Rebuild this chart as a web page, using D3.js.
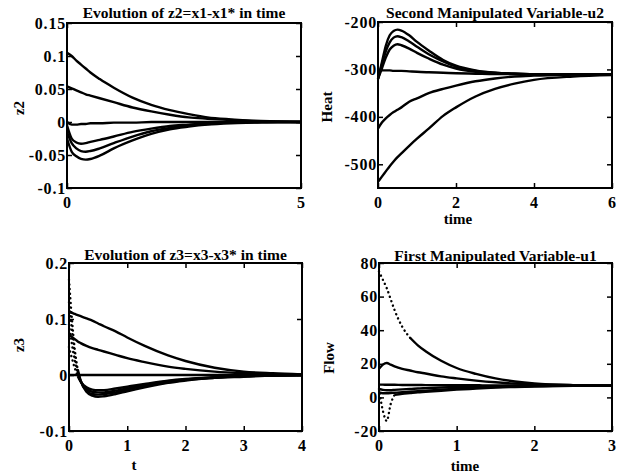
<!DOCTYPE html>
<html>
<head>
<meta charset="utf-8">
<script src="https://cdn.jsdelivr.net/npm/d3@7"></script>
<style>
  body { margin: 0; background: #fff; }
  svg { display: block; }
  .tick text { font-family: "Liberation Serif", "DejaVu Serif", serif; font-weight: bold; font-size: 16px; letter-spacing: 0.8px; fill: #000; }
  .tick line { stroke: #000; stroke-width: 1.5px; }
  .title, .label { font-family: "Liberation Serif", "DejaVu Serif", serif; font-weight: bold; fill: #000; }
  .title { font-size: 15.5px; }
  .label { font-size: 15px; }
  .curve { fill: none; stroke: #000; stroke-width: 2.4px; stroke-linejoin: round; }
  .dots { fill: none; stroke: #000; stroke-width: 2.4px; stroke-dasharray: 0.1 4.5; stroke-linecap: round; }
</style>
</head>
<body>
<svg width="627" height="475"></svg>
<script>
// panel 1: z2 = x1 - x1*
const t1 = [0, 0.1, 0.2, 0.3, 0.4, 0.5, 0.7, 1.0, 1.4, 1.8, 2.2, 2.6, 3.0, 3.5, 4.0, 4.5, 5.0];
const z2a = [0.105, 0.100, 0.093, 0.087, 0.081, 0.075, 0.065, 0.052, 0.037, 0.026, 0.018, 0.012, 0.007, 0.004, 0.002, 0.001, 0];
const z2b = [0.054, 0.051, 0.048, 0.045, 0.042, 0.040, 0.036, 0.030, 0.022, 0.016, 0.011, 0.007, 0.005, 0.003, 0.001, 0.0005, 0];
const z2c = [0, -0.004, -0.004, -0.003, -0.003, -0.002, -0.002, -0.001, -0.001, 0, 0, 0, 0, 0, 0, 0, 0];
const z2d = [-0.005, -0.025, -0.031, -0.033, -0.032, -0.030, -0.027, -0.022, -0.015, -0.010, -0.006, -0.004, -0.002, -0.001, 0, 0, 0];
const z2e = [-0.015, -0.032, -0.040, -0.044, -0.045, -0.044, -0.040, -0.032, -0.022, -0.014, -0.009, -0.005, -0.003, -0.001, 0, 0, 0];
const z2f = [-0.025, -0.045, -0.052, -0.056, -0.057, -0.056, -0.051, -0.040, -0.028, -0.018, -0.011, -0.007, -0.004, -0.002, -0.001, 0, 0];
const z2XTicks = [0, 5];
const z2YTicks = [-0.1, -0.05, 0, 0.05, 0.1, 0.15];
const z2YLabels = ["-0.1", "-0.05", "0", "0.05", "0.1", "0.15"];

// panel 2: heat u2
const t2 = [0, 0.1, 0.2, 0.3, 0.4, 0.5, 0.6, 0.8, 1.0, 1.3, 1.67, 2.0, 2.5, 3.0, 3.5, 4.0, 5.0, 6.0];
const h1 = [-320, -285, -250, -228, -219, -216, -218, -228, -242, -260, -280, -292, -302, -307, -309, -310, -310, -310];
const h2 = [-320, -290, -262, -243, -233, -230, -232, -241, -252, -268, -283, -294, -303, -307, -309, -310, -310, -310];
const h3 = [-320, -298, -275, -258, -250, -247, -249, -256, -265, -277, -290, -298, -305, -308, -309, -310, -310, -310];
const h4 = [-305, -302, -302, -302, -303, -303, -303, -304, -305, -306, -307, -308, -309, -310, -310, -310, -310, -310];
const h5 = [-425, -412, -403, -396, -390, -385, -380, -368, -361, -350, -341, -334, -325, -319, -315, -313, -311, -310];
const h6 = [-537, -526, -515, -504, -494, -485, -477, -461, -446, -425, -398, -380, -357, -341, -330, -322, -315, -312];
const heatXTicks = [0, 2, 4, 6];
const heatYTicks = [-500, -400, -300, -200];

// panel 3: z3 = x3 - x3*
const t3 = [0, 0.05, 0.1, 0.15, 0.2, 0.3, 0.4, 0.5, 0.6, 0.8, 1.0, 1.3, 1.7, 2.0, 2.5, 3.0, 3.5, 4.0];
const z3a = [0.112, 0.111, 0.109, 0.107, 0.105, 0.101, 0.097, 0.092, 0.087, 0.078, 0.067, 0.052, 0.035, 0.025, 0.013, 0.006, 0.003, 0.001];
const z3b = [0.072, 0.068, 0.064, 0.060, 0.057, 0.052, 0.048, 0.045, 0.042, 0.036, 0.030, 0.023, 0.015, 0.011, 0.006, 0.003, 0.001, 0];
const z3c = [0, 0, 0, 0, 0, 0, 0, 0, 0, 0, 0, 0, 0, 0, 0, 0, 0, 0];
const z3d = [0.05, 0.03, 0.012, -0.002, -0.012, -0.022, -0.026, -0.027, -0.027, -0.024, -0.021, -0.016, -0.010, -0.007, -0.004, -0.002, -0.001, 0];
const z3e = [0.09, 0.055, 0.025, 0.003, -0.011, -0.025, -0.030, -0.031, -0.031, -0.028, -0.024, -0.018, -0.011, -0.008, -0.004, -0.002, -0.001, 0];
const z3f = [0.13, 0.08, 0.035, 0.006, -0.011, -0.028, -0.034, -0.035, -0.034, -0.031, -0.026, -0.020, -0.013, -0.009, -0.005, -0.002, -0.001, 0];
const z3g = [0.17, 0.10, 0.045, 0.010, -0.010, -0.030, -0.037, -0.039, -0.038, -0.034, -0.029, -0.022, -0.014, -0.010, -0.005, -0.003, -0.001, 0];
const z3XTicks = [0, 1, 2, 3, 4];
const z3YTicks = [-0.1, 0, 0.1, 0.2];
const z3YLabels = ["-0.1", "0", "0.1", "0.2"];

// panel 4: flow u1
const t4 = [0, 0.05, 0.1, 0.15, 0.2, 0.3, 0.4, 0.5, 0.6, 0.8, 1.0, 1.25, 1.5, 1.75, 2.0, 2.5, 3.0];
const f1 = [75, 70, 65, 58.5, 52, 42, 35.5, 31, 27.5, 21.8, 17.5, 14, 11.3, 9.5, 8.3, 7.3, 7.0];
const f2 = [17, 19.5, 20.5, 19.5, 18.5, 17, 16, 15, 14.2, 12.5, 11.3, 10, 9, 8.3, 7.8, 7.2, 7];
const f3 = [7.6, 7.6, 7.5, 7.5, 7.5, 7.4, 7.4, 7.4, 7.3, 7.3, 7.2, 7.2, 7.1, 7.1, 7, 7, 7];
const f4 = [5, 4.5, 4.3, 4.3, 4.5, 4.8, 5, 5.3, 5.5, 5.9, 6.2, 6.5, 6.7, 6.8, 6.9, 7, 7];
const f5 = [5, -8, -14, -4, 1.5, 2.2, 2.6, 3, 3.3, 4, 4.6, 5.2, 5.8, 6.2, 6.5, 6.9, 7];
const f6 = [3, 2.5, 2.5, 2.6, 2.8, 3.1, 3.4, 3.7, 4, 4.6, 5.1, 5.7, 6.1, 6.5, 6.7, 7, 7];
const flowXTicks = [0, 1, 2, 3];
const flowYTicks = [-20, 0, 20, 40, 60, 80];

const svg = d3.select("svg");

const panels = [
    {box: [67, 23, 301, 188], xDom: [0, 5], yDom: [-0.1, 0.15], t: t1,
     series: [z2a, z2b, z2c, z2d, z2e, z2f], dotted: [0, 0, 0, 0, 0, 0],
     xTicks: z2XTicks, yTicks: z2YTicks, yFmt: (d, i) => z2YLabels[i],
     title: "Evolution of z2=x1-x1* in time", titleY: 18,
     yLab: "z2", yLabPos: [19, 108], xLab: null},
    {box: [378, 22, 612, 188], xDom: [0, 6], yDom: [-550, -200], t: t2,
     series: [h1, h2, h3, h4, h5, h6], dotted: [0, 0, 0, 0, 0, 0],
     xTicks: heatXTicks, yTicks: heatYTicks, yFmt: d => d,
     title: "Second Manipulated Variable-u2", titleY: 18,
     yLab: "Heat", yLabPos: [327, 107], xLab: "time", xLabPos: [458, 224]},
    {box: [69, 263, 302, 431], xDom: [0, 4], yDom: [-0.1, 0.2], t: t3,
     series: [z3a, z3b, z3c, z3d, z3e, z3f, z3g], dotted: [0, 0, 0, 0.15, 0.15, 0.15, 0.15],
     xTicks: z3XTicks, yTicks: z3YTicks, yFmt: (d, i) => z3YLabels[i],
     title: "Evolution of z3=x3-x3* in time", titleY: 260,
     yLab: "z3", yLabPos: [19, 345], xLab: "t", xLabPos: [134, 470]},
    {box: [379, 263, 612, 431], xDom: [0, 3], yDom: [-20, 80], t: t4,
     series: [f1, f2, f3, f4, f5, f6], dotted: [0.4, 0, 0, 0, 0.2, 0],
     xTicks: flowXTicks, yTicks: flowYTicks, yFmt: d => d,
     title: "First Manipulated Variable-u1", titleY: 261,
     yLab: "Flow", yLabPos: [329, 358], xLab: "time", xLabPos: [465, 471]}
];

panels.forEach(p => {
    const [x0, y0, x1, y1] = p.box;
    const x = d3.scaleLinear().domain(p.xDom).range([x0, x1]);
    const y = d3.scaleLinear().domain(p.yDom).range([y1, y0]);
    const g = svg.append("g");

    const line = d3.line()
        .x(d => x(d[0]))
        .y(d => y(d[1]))
        .curve(d3.curveMonotoneX);

    p.series.forEach((s, k) => {
        const pts = p.t.map((t, i) => [t, s[i]]);
        const cut = p.dotted[k];
        if (cut > 0) {
            g.append("path").attr("class", "dots")
                .attr("d", line(pts.filter(d => d[0] <= cut)));
            g.append("path").attr("class", "curve")
                .attr("d", line(pts.filter(d => d[0] >= cut)));
        } else {
            g.append("path").attr("class", "curve").attr("d", line(pts));
        }
    });

    // axes with inward ticks, MATLAB style box
    const ax = (gen, tr, vals, fmt) => {
        const a = g.append("g").attr("transform", tr)
            .call(gen.tickValues(vals).tickFormat(fmt).tickSizeOuter(0));
        a.select(".domain").remove();
        return a;
    };
    ax(d3.axisBottom(x).tickSizeInner(-5).tickPadding(9), `translate(0,${y1})`, p.xTicks, d => d);
    ax(d3.axisTop(x).tickSizeInner(-5), `translate(0,${y0})`, p.xTicks, "").selectAll("text").remove();
    ax(d3.axisLeft(y).tickSizeInner(-5).tickPadding(1), `translate(${x0},0)`, p.yTicks, p.yFmt);
    ax(d3.axisRight(y).tickSizeInner(-5), `translate(${x1},0)`, p.yTicks, "").selectAll("text").remove();

    g.append("rect")
        .attr("x", x0).attr("y", y0)
        .attr("width", x1 - x0).attr("height", y1 - y0)
        .attr("fill", "none").attr("stroke", "#000").attr("stroke-width", 2);

    g.append("text").attr("class", "title")
        .attr("x", (x0 + x1) / 2).attr("y", p.titleY)
        .attr("text-anchor", "middle").text(p.title);

    g.append("text").attr("class", "label")
        .attr("transform", `translate(${p.yLabPos[0]},${p.yLabPos[1]}) rotate(-90)`)
        .attr("text-anchor", "middle").attr("dy", "0.35em").text(p.yLab);

    if (p.xLab) {
        g.append("text").attr("class", "label")
            .attr("x", p.xLabPos[0]).attr("y", p.xLabPos[1])
            .attr("text-anchor", "middle").text(p.xLab);
    }
});
</script>
</body>
</html>
